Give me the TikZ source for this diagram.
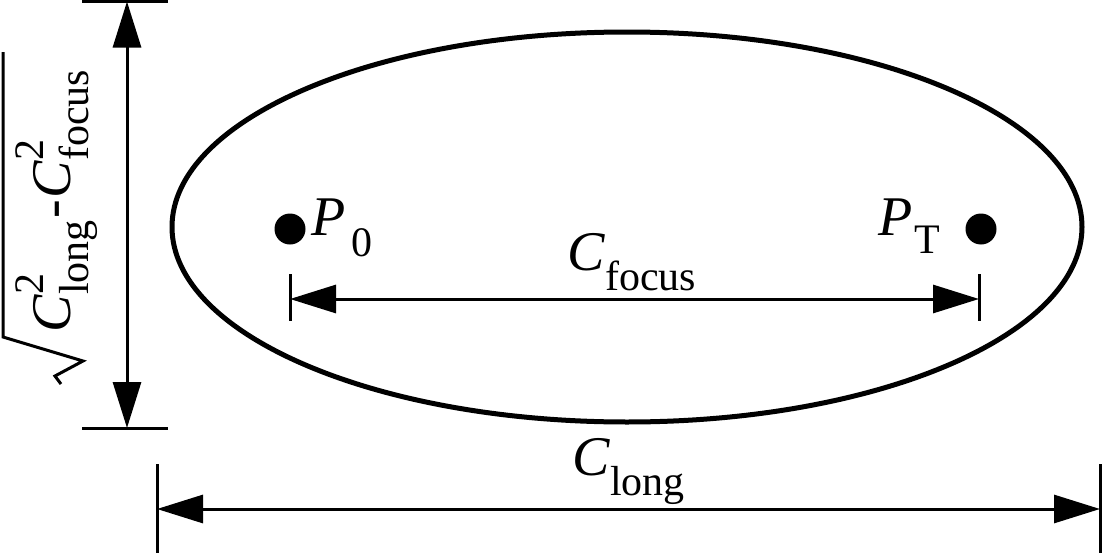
\documentclass[tikz,border=0pt]{standalone}
\usepackage{fontspec}
\setmainfont{Liberation Serif}
\usetikzlibrary{arrows.meta}
\newcommand\mainfnt{\fontsize{56}{60}\selectfont}
\newcommand\subfnt{\fontsize{42}{44}\selectfont}
\newcommand\lowsub[2][-20pt]{\raisebox{#1}{\subfnt #2}}
\newcommand\supsub[2]{\rlap{\raisebox{27pt}{\subfnt #1}}\raisebox{-18pt}{\subfnt #2}}
\begin{document}
\begin{tikzpicture}[x=1pt,y=-1pt,
  tip/.tip={Triangle[length=46pt,width=28pt]},
  dim/.style={{tip}-{tip}, line width=3pt},
  tick/.style={line width=3pt},
  dot/.style={circle, fill, inner sep=0pt, minimum size=31pt},
  lbl/.style={font=\mainfnt, inner sep=0pt}]
\useasboundingbox (0,0) rectangle (1103,554);
% ellipse
\draw[line width=5pt] (627,227) ellipse [x radius=455pt, y radius=195pt];
% foci
\node[dot] (p0) at (290,229) {};
\node[dot] (pt) at (981,229) {};
\node[lbl, anchor=base west] (p0l) at (311,235) {\textit{P}\kern6pt\lowsub[-21pt]{0}};
\node[lbl, anchor=base west] (ptl) at (878,235) {\textit{P}\kern2pt\lowsub[-18pt]{T}};
% focus dimension
\coordinate (fa) at (290,299);
\coordinate (fb) at (979,299);
\draw[tick] ([yshift=25pt]fa) -- ([yshift=-22pt]fa);
\draw[tick] ([yshift=25pt]fb) -- ([yshift=-22pt]fb);
\draw[dim] (fa) -- (fb);
\node[lbl, anchor=base west] (cf) at (567,270) {\textit{C}\lowsub{focus}};
% long dimension
\coordinate (la) at (157,509);
\coordinate (lb) at (1100,509);
\draw[tick] ([yshift=45pt]la) -- ([yshift=-44pt]la);
\draw[tick] ([yshift=45pt]lb) -- ([yshift=-44pt]lb);
\draw[dim] (la) -- (lb);
\node[lbl, anchor=base west] (cl) at (572,475) {\textit{C}\lowsub{long}};
% vertical dimension
\coordinate (va) at (127,1.5);
\coordinate (vb) at (127,428);
\draw[tick] ([xshift=-45pt]va) -- ([xshift=41pt]va);
\draw[tick] ([xshift=-45pt]vb) -- ([xshift=41pt]vb);
\draw[dim] (va) -- (vb);
% radical sign and rotated label
\coordinate (r1) at (3,52);
\coordinate (r2) at (3,337);
\coordinate (r3) at (83,361);
\coordinate (r4) at (55,376);
\coordinate (r5) at (61,384);
\draw[line width=3pt, miter limit=20] (r1) -- (r2) -- (r3) -- (r4) -- (r5);
\node[lbl, rotate=90, anchor=base west] (h) at (70,333)
  {\textit{C}\supsub{2}{long}\kern2pt-\kern1pt\textit{C}\supsub{2}{focus}};
\end{tikzpicture}
\end{document}
